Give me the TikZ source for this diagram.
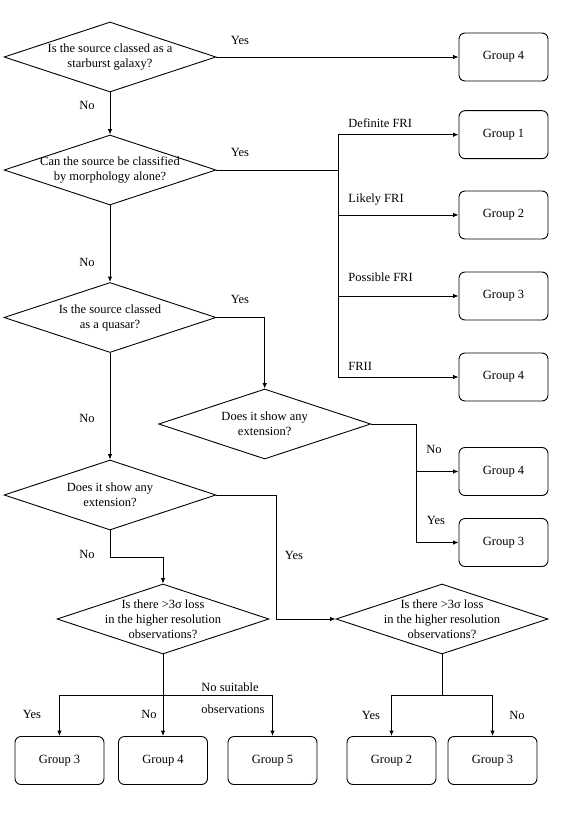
\documentclass[tikz,border=0pt]{standalone}
\usepackage{fontspec}
\setmainfont{Liberation Serif}
\usepackage{tikz}
\usetikzlibrary{shapes, arrows.meta, calc}

\tikzset{
  question/.style={shape=diamond, draw, align=center, minimum width=212pt,
    minimum height=70pt, inner xsep=-14pt, inner ysep=0pt, aspect=3.03},
  group/.style={draw, rounded corners=6pt, minimum width=89pt, minimum height=48pt},
  answer/.style={inner sep=1pt}
}

\begin{document}
\begin{tikzpicture}[>={Latex[length=5.5pt,width=4.5pt]}, x=1pt, y=-1pt, line width=0.9pt,
    font=\fontsize{12.5}{15}\selectfont]
  \useasboundingbox (0,0) rectangle (563,813);

  \node[question] (q-star) at (110,57) {Is the source classed as a\\starburst galaxy?};
  \node[question] (q-morph) at (110,170) {Can the source be classified\\by morphology alone?};
  \node[question] (q-quasar) at (110,317.5) {Is the source classed\\as a quasar?};
  \node[question] (q-qext) at (264.7,424) {Does it show any\\extension?};
  \node[question] (q-ext) at (110,495) {Does it show any\\extension?};
  \node[question] (q-lossa) at (163,619) {Is there >3σ loss\\in the higher resolution\\observations?};
  \node[question] (q-lossb) at (442,619) {Is there >3σ loss\\in the higher resolution\\observations?};

  \node[group] (grp-star) at (503.5,57) {Group 4};
  \node[group] (grp-def) at (503.5,134.7) {Group 1};
  \node[group] (grp-likely) at (503.5,215) {Group 2};
  \node[group] (grp-possible) at (503.5,296) {Group 3};
  \node[group] (grp-frii) at (503.5,377) {Group 4};
  \node[group] (grp-noext) at (503.5,471.5) {Group 4};
  \node[group] (grp-ext) at (503.5,542.5) {Group 3};
  \node[group] (grp-lowa) at (59.5,760.5) {Group 3};
  \node[group] (grp-lowb) at (163,760.5) {Group 4};
  \node[group] (grp-lowc) at (272.5,760.5) {Group 5};
  \node[group] (grp-lowd) at (391.5,760.5) {Group 2};
  \node[group] (grp-lowe) at (492.5,760.5) {Group 3};

  \coordinate (split1) at (338,170);
  \coordinate (split2) at (416,424);
  \coordinate (bend3) at (276,495);
  \coordinate (bend4) at (110,557);
  \coordinate (split3) at (163,695);
  \coordinate (split4) at (442,695);

  \draw[->] (q-star.east) -- (grp-star.west);
  \draw[->] (q-star.south) -- (q-morph.north);
  \draw (q-morph.east) -- (split1);
  \draw (split1 |- grp-def.west) -- (split1 |- grp-frii.west);
  \foreach \g in {def, likely, possible, frii} {
    \draw[->] (split1 |- grp-\g.west) -- (grp-\g.west);
  };
  \draw[->] (q-morph.south) -- (q-quasar.north);
  \draw[->] (q-quasar.east) -| (q-qext.north);
  \draw[->] (q-quasar.south) -- (q-ext.north);
  \draw (q-qext.east) -- (split2);
  \draw[->] (split2) |- (grp-noext.west);
  \draw[->] (split2) |- (grp-ext.west);
  \draw[->] (q-ext.east) -- (bend3) |- (q-lossb.west);
  \draw[->] (q-ext.south) -- (bend4) -| (q-lossa.north);
  \draw (q-lossa.south) -- (split3);
  \draw (grp-lowa.north |- split3) -- (grp-lowc.north |- split3);
  \foreach \g in {lowa, lowb, lowc} {
    \draw[->] (grp-\g.north |- split3) -- (grp-\g.north);
  };
  \draw (q-lossb.south) -- (split4);
  \draw (grp-lowd.north |- split4) -- (grp-lowe.north |- split4);
  \foreach \g in {lowd, lowe} {
    \draw[->] (grp-\g.north |- split4) -- (grp-\g.north);
  };

  \node[answer] (a-star-yes) at (240,40) {Yes};
  \node[answer] (a-star-no) at (87,105) {No};
  \node[answer] (a-morph-yes) at (240,152) {Yes};
  \node[answer, anchor=west] (a-def) at (347,123) {Definite FRI};
  \node[answer, anchor=west] (a-likely) at (347,200) {Likely FRI};
  \node[answer, anchor=west] (a-possible) at (347,277) {Possible FRI};
  \node[answer, anchor=west] (a-frii) at (347,366) {FRII};
  \node[answer] (a-morph-no) at (87,262) {No};
  \node[answer] (a-quasar-yes) at (240,299) {Yes};
  \node[answer] (a-quasar-no) at (87,418) {No};
  \node[answer] (a-qext-no) at (434,449) {No};
  \node[answer] (a-qext-yes) at (436,520) {Yes};
  \node[answer] (a-ext-no) at (87,554) {No};
  \node[answer] (a-ext-yes) at (294,555) {Yes};
  \node[answer] (a-lossa-yes) at (32,714) {Yes};
  \node[answer] (a-lossa-no) at (149,714) {No};
  \node[answer] (a-lossa-none) at (230,687) {No suitable};
  \node[answer] (a-lossa-obs) at (233,709) {observations};
  \node[answer] (a-lossb-yes) at (371,715) {Yes};
  \node[answer] (a-lossb-no) at (517,715) {No};
\end{tikzpicture}
\end{document}
